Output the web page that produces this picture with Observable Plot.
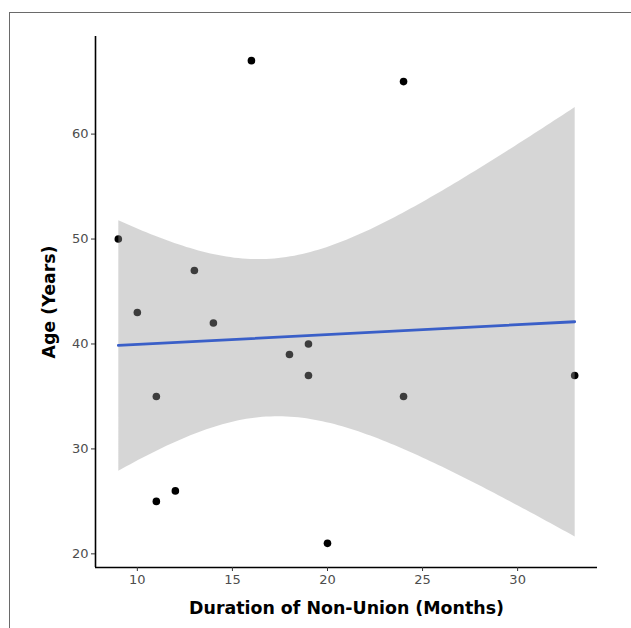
<!DOCTYPE html>
<html>
<head>
<meta charset="utf-8">
<script src="https://cdn.jsdelivr.net/npm/d3@7"></script>
<script src="https://cdn.jsdelivr.net/npm/@observablehq/plot@0.6"></script>
<style>
  html, body { margin: 0; padding: 0; background: #fff; }
  #wrap { position: relative; width: 631px; height: 628px; overflow: hidden; }
  #frame { position: absolute; left: 9px; top: 12px; width: 640px; height: 640px;
           border-top: 1.5px solid #6a6a6a; border-left: 1.5px solid #6a6a6a; box-sizing: border-box; pointer-events: none; }
  #chart { position: absolute; left: 0; top: 0; }
  #chart svg { font-family: "DejaVu Sans", sans-serif; }
  #chart g[aria-label="x-axis tick label"] text,
  #chart g[aria-label="y-axis tick label"] text { fill: #4d4d4d; }
</style>
</head>
<body>
<div id="wrap"><div id="chart"></div><div id="frame"></div></div>
<script>
const duration = [9, 10, 11, 11, 12, 13, 14, 16, 18, 19, 19, 20, 24, 24, 33];
const age      = [50, 43, 35, 25, 26, 47, 42, 67, 39, 40, 37, 21, 65, 35, 37];
const xTicks = [10, 15, 20, 25, 30];
const yTicks = [20, 30, 40, 50, 60];
const xTitle = "Duration of Non-Union (Months)";
const yTitle = "Age (Years)";

const data = duration.map((d, i) => ({duration: d, age: age[i]}));

// ggplot-style 5% expansion of the data range
const xe = d3.extent(duration), ye = d3.extent(age);
const xPad = (xe[1] - xe[0]) * 0.05, yPad = (ye[1] - ye[0]) * 0.05;
const xDomain = [xe[0] - xPad, xe[1] + xPad];
const yDomain = [ye[0] - yPad, ye[1] + yPad];

const chart = Plot.plot({
  width: 631,
  height: 628,
  marginLeft: 95,
  marginTop: 36,
  marginRight: 34,
  marginBottom: 61,
  x: {domain: xDomain},
  y: {domain: yDomain},
  marks: [
    Plot.dot(data, {x: "duration", y: "age", r: 3.8, fill: "black", stroke: "none"}),
    Plot.linearRegressionY(data, {x: "duration", y: "age", ci: 0.95,
      fill: "#999999", fillOpacity: 0.4, stroke: "#3a5fc8", strokeWidth: 2.8}),
    Plot.ruleX([xDomain[0]], {stroke: "black", strokeWidth: 1.6}),
    Plot.ruleY([yDomain[0]], {stroke: "black", strokeWidth: 1.6}),
    Plot.axisX({ticks: xTicks, tickSize: 4, tickPadding: 3, fontSize: 13, stroke: "#333", label: null}),
    Plot.axisY({ticks: yTicks, tickSize: 4, tickPadding: 3, fontSize: 13, stroke: "#333", label: null}),
    Plot.text([xTitle], {frameAnchor: "bottom", dy: 46, fontSize: 17.4, fontWeight: "bold", fill: "black", textAnchor: "middle"}),
    Plot.text([yTitle], {frameAnchor: "left", dx: -46, rotate: -90, fontSize: 17.4, fontWeight: "bold", fill: "black", textAnchor: "middle"})
  ]
});
document.getElementById("chart").appendChild(chart);
</script>
</body>
</html>
